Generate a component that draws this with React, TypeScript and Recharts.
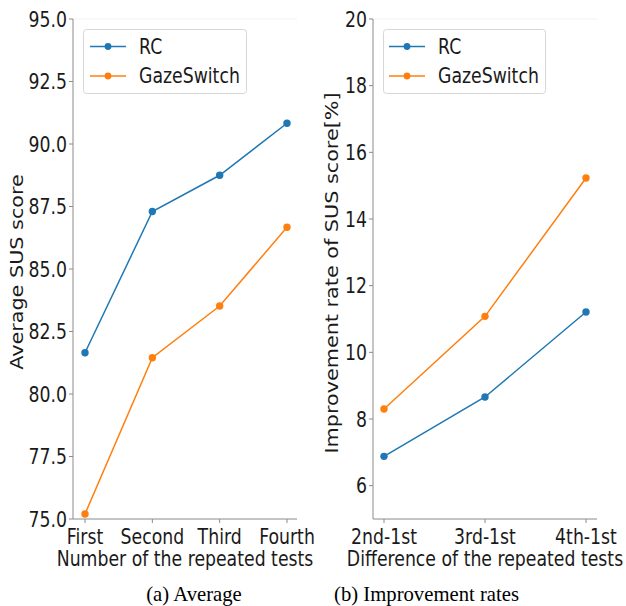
import React from 'react';
import { LineChart, Line, XAxis, YAxis, Legend, Label, ReferenceLine } from 'recharts';

const testCategories = ['First', 'Second', 'Third', 'Fourth'];
const rcAverage = [81.65, 87.3, 88.75, 90.83];
const gazeAverage = [75.2, 81.45, 83.52, 86.67];
const averageTicks = [75, 77.5, 80, 82.5, 85, 87.5, 90, 92.5, 95];

const diffCategories = ['2nd-1st', '3rd-1st', '4th-1st'];
const rcRate = [6.88, 8.66, 11.21];
const gazeRate = [8.3, 11.08, 15.23];
const rateTicks = [6, 8, 10, 12, 14, 16, 18, 20];

const seriesNames = ['RC', 'GazeSwitch'];
const BLUE = '#1f77b4';
const ORANGE = '#ff7f0e';
const TEXT = '#1a1a1a';
const SPINE = '#8a8a8a';
const FONT = "'DejaVu Sans', Verdana, sans-serif";
const FS = 17.3;
const SY = 1.2;

const avgData = testCategories.map((c, i) => ({ cat: c, rc: rcAverage[i], gs: gazeAverage[i] }));
const rateData = diffCategories.map((c, i) => ({ cat: c, rc: rcRate[i], gs: gazeRate[i] }));

const XTick = (props: any) => {
  const { x, y, payload } = props;
  return (
    <g transform={`translate(${x},${y + 19}) scale(1,${SY})`}>
      <text x={0} y={0} textAnchor="middle" fill={TEXT} fontSize={FS} fontFamily={FONT}>
        {payload.value}
      </text>
    </g>
  );
};

const makeYTick = (fmt: (v: number) => string) => (props: any) => {
  const { x, y, payload } = props;
  return (
    <g transform={`translate(${x},${y}) scale(1,${SY})`}>
      <text x={0} y={0} dy="0.3645em" textAnchor="end" fill={TEXT} fontSize={FS} fontFamily={FONT}>
        {fmt(payload.value)}
      </text>
    </g>
  );
};

const makeXLabel = (text: string) => (props: any) => {
  const vb = props.viewBox || {};
  const cx = vb.x + vb.width / 2;
  return (
    <g transform={`translate(${cx},${vb.y + 46.5}) scale(1,${SY})`}>
      <text x={0} y={0} textAnchor="middle" fill={TEXT} fontSize={FS} fontFamily={FONT}>
        {text}
      </text>
    </g>
  );
};

const makeYLabel = (text: string, bx: number, cy: number) => () => (
  <g transform={`translate(${bx},${cy}) rotate(-90) scale(${SY},1)`}>
    <text x={0} y={0} textAnchor="middle" fill={TEXT} fontSize={FS} fontFamily={FONT}>
      {text}
    </text>
  </g>
);

const LegendBox = ({ w, lineX0, lineX1, textX }: any) => {
  const rows = [
    { name: seriesNames[0], color: BLUE, cy: 17.5, base: 24.5 },
    { name: seriesNames[1], color: ORANGE, cy: 47, base: 54 },
  ];
  return (
    <svg width={w} height={65} style={{ display: 'block' }}>
      <rect x={0.5} y={0.5} width={w - 1} height={64} rx={3} ry={3} fill="rgba(255,255,255,0.85)" stroke="#d6d6d6" strokeWidth={1} />
      {rows.map((r) => (
        <g key={r.name}>
          <line x1={lineX0} x2={lineX1} y1={r.cy} y2={r.cy} stroke={r.color} strokeWidth={1.5} />
          <circle cx={(lineX0 + lineX1) / 2} cy={r.cy} r={3.4} fill={r.color} />
          <g transform={`translate(${textX},${r.base}) scale(1,${SY})`}>
            <text x={0} y={0} fill={TEXT} fontSize={FS} fontFamily={FONT}>
              {r.name}
            </text>
          </g>
        </g>
      ))}
    </svg>
  );
};

const dotStyle = (color: string) => ({ r: 3.7, fill: color, stroke: color, strokeWidth: 0 });

export default function App() {
  return (
    <div style={{ position: 'absolute', left: 0, top: 0, width: 626, height: 606, background: '#fff', overflow: 'hidden' }}>
      <div style={{ position: 'absolute', left: 0, top: 0 }}>
        <LineChart width={330} height={606} data={avgData} margin={{ top: 19, right: 33, bottom: 0, left: 0 }}>
          <ReferenceLine y={95} stroke="#f2f2f2" strokeWidth={1} />
          <XAxis
            dataKey="cat"
            height={87}
            padding={{ left: 12, right: 10 }}
            axisLine={{ stroke: SPINE, strokeWidth: 1 }}
            tickLine={{ stroke: SPINE }}
            tickSize={4}
            tickMargin={2}
            tick={XTick}
            interval={0}
          >
            <Label content={makeXLabel('Number of the repeated tests')} />
          </XAxis>
          <YAxis
            width={73}
            domain={[75, 95]}
            ticks={averageTicks}
            axisLine={{ stroke: SPINE, strokeWidth: 1 }}
            tickLine={{ stroke: SPINE }}
            tickSize={4}
            tickMargin={2}
            tick={makeYTick((v) => v.toFixed(1))}
            interval={0}
          >
            <Label content={makeYLabel('Average SUS score', 22.6, 272)} />
          </YAxis>
          <YAxis yAxisId="rspine" orientation="right" width={0} tick={false} tickLine={false} axisLine={{ stroke: '#f2f2f2' }} />
          <Legend
            layout="horizontal"
            verticalAlign="middle"
            align="center"
            wrapperStyle={{ left: 83, top: 29, width: 164, height: 65 }}
            content={() => <LegendBox w={164} lineX0={7} lineX1={43} textX={56} />}
          />
          <Line type="linear" dataKey="rc" name={seriesNames[0]} stroke={BLUE} strokeWidth={1.5} dot={dotStyle(BLUE)} activeDot={false} isAnimationActive={false} />
          <Line type="linear" dataKey="gs" name={seriesNames[1]} stroke={ORANGE} strokeWidth={1.5} dot={dotStyle(ORANGE)} activeDot={false} isAnimationActive={false} />
        </LineChart>
      </div>
      <div style={{ position: 'absolute', left: 300, top: 0 }}>
        <LineChart width={326} height={606} data={rateData} margin={{ top: 19, right: 29, bottom: 0, left: 0 }}>
          <ReferenceLine y={20} stroke="#f2f2f2" strokeWidth={1} />
          <XAxis
            dataKey="cat"
            height={87}
            padding={{ left: 11, right: 11 }}
            axisLine={{ stroke: SPINE, strokeWidth: 1 }}
            tickLine={{ stroke: SPINE }}
            tickSize={4}
            tickMargin={2}
            tick={XTick}
            interval={0}
          >
            <Label content={makeXLabel('Difference of the repeated tests')} />
          </XAxis>
          <YAxis
            width={73}
            domain={[5, 20]}
            ticks={rateTicks}
            axisLine={{ stroke: SPINE, strokeWidth: 1 }}
            tickLine={{ stroke: SPINE }}
            tickSize={4}
            tickMargin={2}
            tick={makeYTick((v) => String(v))}
            interval={0}
          >
            <Label content={makeYLabel('Improvement rate of SUS score[%]', 37.6, 273)} />
          </YAxis>
          <YAxis yAxisId="rspine" orientation="right" width={0} tick={false} tickLine={false} axisLine={{ stroke: '#f2f2f2' }} />
          <Legend
            layout="horizontal"
            verticalAlign="middle"
            align="center"
            wrapperStyle={{ left: 83, top: 29, width: 163, height: 65 }}
            content={() => <LegendBox w={163} lineX0={6} lineX1={42} textX={55} />}
          />
          <Line type="linear" dataKey="rc" name={seriesNames[0]} stroke={BLUE} strokeWidth={1.5} dot={dotStyle(BLUE)} activeDot={false} isAnimationActive={false} />
          <Line type="linear" dataKey="gs" name={seriesNames[1]} stroke={ORANGE} strokeWidth={1.5} dot={dotStyle(ORANGE)} activeDot={false} isAnimationActive={false} />
        </LineChart>
      </div>
      <svg width={626} height={606} style={{ position: 'absolute', left: 0, top: 0, pointerEvents: 'none' }}>
        <text x={194} y={601} textAnchor="middle" fill="#000" fontSize={20.7} fontFamily="'Liberation Serif', 'Times New Roman', serif">
          (a) Average
        </text>
        <text x={426.5} y={601} textAnchor="middle" fill="#000" fontSize={20.7} fontFamily="'Liberation Serif', 'Times New Roman', serif">
          (b) Improvement rates
        </text>
      </svg>
    </div>
  );
}
